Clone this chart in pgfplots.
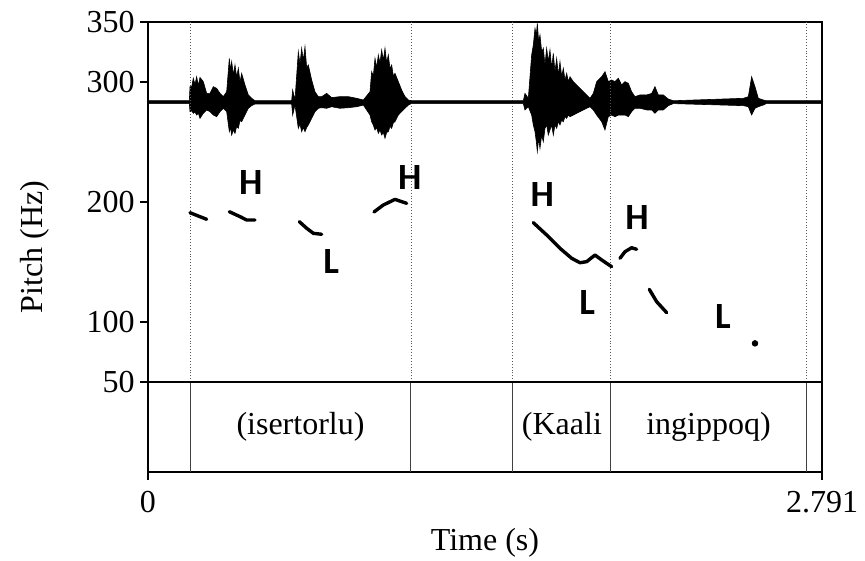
\documentclass[border=0pt]{standalone}
\usepackage{fontspec}
\setmainfont{Liberation Serif}
\newfontfamily\tonefont{Carlito}
\usepackage{pgfplots}
\pgfplotsset{compat=1.18}
\usepackage{pgfplotstable}
\usepgfplotslibrary{fillbetween}
\usetikzlibrary{calc}

% waveform envelope: time (s), upper and lower edge in pitch-axis units
\pgfplotstableread{
t hi lo
0.0000 284.4 282.0
0.1712 284.4 282.0
0.1739 296.1 275.3
0.1808 296.0 276.0
0.1877 303.1 273.9
0.1946 298.0 275.0
0.2015 304.4 272.5
0.2084 297.0 274.0
0.2153 303.8 269.7
0.2291 300.3 273.9
0.2430 290.5 276.7
0.2567 290.5 275.3
0.2705 296.1 272.5
0.2844 294.7 271.1
0.2981 290.5 275.3
0.3119 287.8 278.1
0.3258 291.9 275.3
0.3368 319.7 258.6
0.3416 310.0 262.0
0.3465 317.0 255.8
0.3534 306.0 260.0
0.3603 314.2 257.2
0.3672 304.0 263.0
0.3741 311.4 261.4
0.3810 300.0 268.0
0.3879 307.2 266.9
0.4017 297.5 272.5
0.4155 289.2 278.1
0.4293 286.4 280.3
0.4431 284.4 281.7
0.5949 284.4 281.7
0.5991 293.3 272.5
0.6087 285.0 280.8
0.6225 325.3 261.4
0.6294 315.0 265.0
0.6363 328.1 258.6
0.6432 318.0 262.0
0.6501 329.4 258.6
0.6570 312.0 262.0
0.6639 314.2 264.2
0.6777 301.7 269.7
0.6915 291.9 275.3
0.7053 287.8 278.1
0.7192 287.8 278.6
0.7399 290.5 278.1
0.7606 287.0 279.4
0.7951 287.8 278.1
0.8296 287.8 278.6
0.8641 286.4 279.4
0.8917 285.0 280.8
0.9193 291.9 272.5
0.9262 308.6 266.9
0.9331 305.0 264.0
0.9400 319.7 260.0
0.9469 312.0 262.0
0.9538 322.5 257.2
0.9607 316.0 260.0
0.9676 326.7 255.8
0.9745 318.0 258.0
0.9814 328.1 253.1
0.9883 316.0 258.0
0.9952 322.5 258.6
1.0021 311.0 263.0
1.0090 314.2 261.4
1.0159 305.0 266.0
1.0228 307.2 266.9
1.0366 300.3 272.5
1.0504 293.3 275.3
1.0642 287.8 278.1
1.0780 285.0 280.8
1.0900 284.4 282.0
1.5542 284.4 282.0
1.5611 290.5 276.7
1.5749 286.4 279.4
1.5887 322.5 272.5
1.5956 330.8 264.2
1.6025 344.7 258.6
1.6080 339.2 250.3
1.6122 348.9 242.0
1.6177 333.6 253.1
1.6232 339.2 244.7
1.6302 325.3 255.8
1.6370 328.1 250.3
1.6439 314.2 261.4
1.6508 328.1 264.2
1.6577 317.0 255.8
1.6646 326.7 260.0
1.6716 311.4 264.2
1.6784 323.9 255.8
1.6853 308.6 264.2
1.6923 319.7 261.4
1.6991 305.8 266.9
1.7060 317.0 264.2
1.7130 304.4 268.3
1.7198 311.4 266.9
1.7268 301.7 271.1
1.7337 307.2 269.7
1.7406 300.3 272.5
1.7475 304.4 271.1
1.7613 300.3 272.5
1.7751 297.5 273.9
1.7889 294.7 275.3
1.8027 291.9 276.7
1.8165 289.2 278.1
1.8303 286.4 279.4
1.8441 290.5 276.7
1.8579 300.3 272.5
1.8786 304.4 266.9
1.8924 308.6 260.0
1.9062 300.3 271.1
1.9200 301.7 272.5
1.9338 300.3 271.1
1.9476 303.1 272.5
1.9614 297.5 272.5
1.9752 300.3 272.5
1.9890 298.9 271.1
2.0028 291.9 275.3
2.0166 287.8 278.1
2.0373 289.2 278.1
2.0649 289.2 276.7
2.0856 290.5 276.7
2.0994 296.1 273.9
2.1132 289.2 276.7
2.1339 289.2 276.7
2.1546 285.8 280.3
2.1753 284.4 282.0
2.4652 286.4 280.3
2.4859 287.8 279.4
2.4997 304.4 272.5
2.5135 296.1 278.1
2.5273 286.4 279.4
2.5480 285.0 280.8
2.5600 284.4 282.0
2.7910 284.4 282.0
}\wave

\begin{document}
\begin{tikzpicture}
\begin{axis}[
    width=337pt, height=225pt, scale only axis,
    xmin=0, xmax=2.791, ymin=-25, ymax=350,
    axis line style={line width=0.85pt},
    xtick={0,2.791}, xticklabels={0,2.791},
    ytick={50,100,200,300,350},
    xtick pos=bottom, ytick pos=left,
    tick align=outside, major tick length=4pt,
    tick style={black, line width=0.85pt},
    ticklabel style={font=\fontsize{16}{19}\selectfont},
    xticklabel style={inner sep=0pt, yshift=-5.5pt},
    yticklabel style={inner sep=0pt, xshift=-2.5pt},
    /pgf/number format/assume math mode=true,
    xlabel={Time (s)}, ylabel={Pitch (Hz)},
    label style={font=\fontsize{16}{19}\selectfont},
    xlabel style={at={(axis description cs:0.5,-0.157)}, anchor=center},
    ylabel style={at={(axis description cs:-0.1677,0.5)}, anchor=center},
]
% interval boundaries: dotted in the pitch area, solid in the text tier
\foreach \b in {0.174,1.089,1.511,1.917,2.725}{
  \edef\tmp{\noexpand\addplot[gray!70!black, densely dotted, line width=0.45pt] coordinates {(\b,50) (\b,350)};
  \noexpand\addplot[black!75, line width=0.5pt] coordinates {(\b,-25) (\b,50)};}
  \tmp
}
\addplot[black, line width=0.85pt] coordinates {(0,50) (2.791,50)};

% waveform
\addplot[name path=wu, black, line width=0.3pt] table[x=t, y=hi] {\wave};
\addplot[name path=wl, black, line width=0.3pt] table[x=t, y=lo] {\wave};
\addplot[black] fill between[of=wu and wl];

% pitch track
\pgfplotsset{pitch/.style={black, line width=1.7pt, line cap=round, line join=round}}
\addplot[pitch] coordinates {(0.1739,191.1) (0.2084,188.3) (0.2429,185.6)};
\addplot[pitch] coordinates {(0.3368,191.9) (0.3810,187.8) (0.4086,185.0) (0.4431,185.0)};
\addplot[pitch] coordinates {(0.6267,183.6) (0.6571,178.1) (0.6847,173.9) (0.7192,173.1)};
\addplot[pitch] coordinates {(0.9358,191.7) (0.9745,197.5) (1.0228,202.2) (1.0712,198.9)};
\addplot[pitch] coordinates {(1.5955,182.8) (1.6510,172.5) (1.7060,161.4) (1.7544,153.1)
  (1.7889,149.4) (1.8165,150.3) (1.8510,155.8) (1.8786,151.7) (1.9200,146.1)};
\addplot[pitch] coordinates {(1.9545,153.1) (1.9752,158.6) (2.0028,161.9) (2.0235,160.6)};
\addplot[pitch] coordinates {(2.0759,127.2) (2.1064,116.9) (2.1478,107.8)};
\addplot[black, only marks, mark=*, mark size=1.4pt] coordinates {(2.5135,82.2)};

% tone labels
\tikzset{tone/.style={font=\tonefont\bfseries\fontsize{18.5}{20}\selectfont, inner sep=0pt, anchor=center}}
\node[tone] at (axis cs:0.4253,216.0) {H};
\node[tone] at (axis cs:1.0836,220.3) {H};
\node[tone] at (axis cs:0.7590,150.3) {L};
\node[tone] at (axis cs:1.6325,206.4) {H};
\node[tone] at (axis cs:2.0249,187.5) {H};
\node[tone] at (axis cs:1.8191,116.4) {L};
\node[tone] at (axis cs:2.3810,105.0) {L};

% text tier
\tikzset{tier/.style={font=\fontsize{16}{19}\selectfont, anchor=center}}
\node[tier] at (axis cs:0.6315,12.5) {(isertorlu)};
\node[tier] at (axis cs:1.7140,12.5) {(Kaali};
\node[tier] at (axis cs:2.3210,12.5) {ingippoq)};
\end{axis}
\pgfresetboundingbox
\path ($(current axis.south west)+(-74pt,-44pt)$) rectangle ($(current axis.north east)+(21.5pt,11pt)$);
\end{tikzpicture}
\end{document}
